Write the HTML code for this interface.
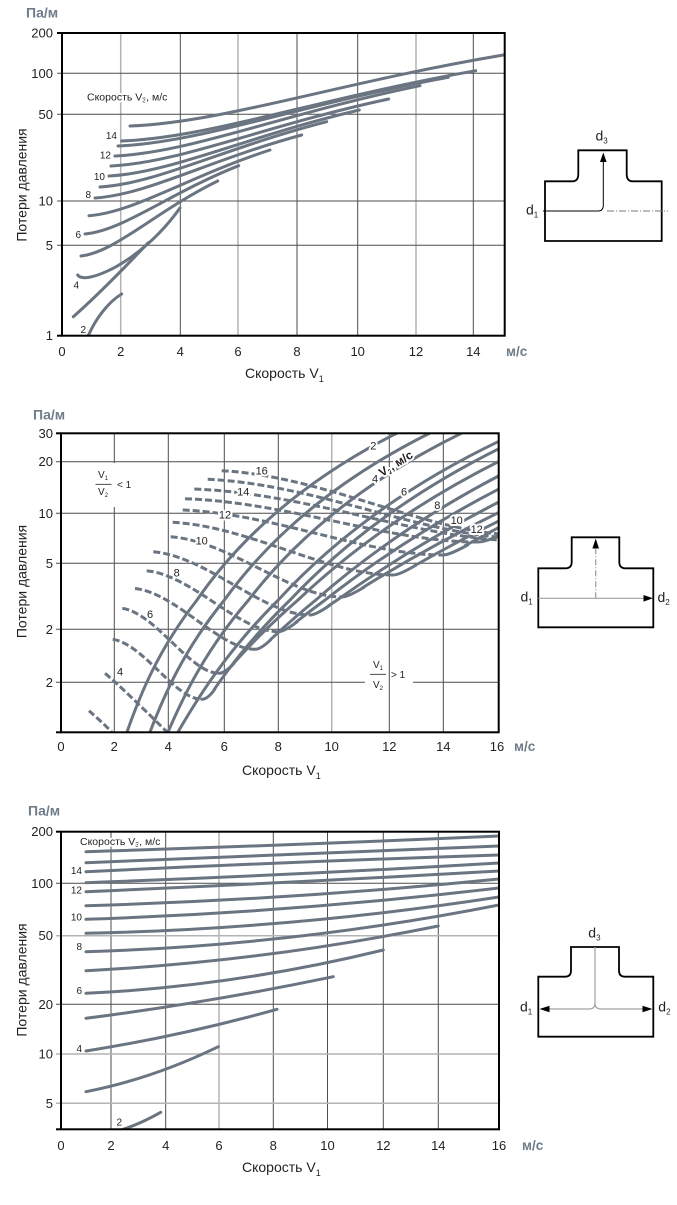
<!DOCTYPE html>
<html><head><meta charset="utf-8"><style>
html,body{margin:0;padding:0;background:#fff;}
svg{display:block;}
text{font-family:"Liberation Sans",sans-serif;fill:#231f20;}
.c{fill:none;stroke:#6a7581;stroke-width:3;stroke-linecap:round;}
.d{fill:none;stroke:#6a7581;stroke-width:3;stroke-dasharray:7 3;}
.gd{stroke:#4d4d4d;stroke-width:1;}
.gl{stroke:#b3b3b3;stroke-width:1.5;}
.fr{fill:none;stroke:#000;stroke-width:2;}
.t{font-size:13px;}
.u{font-size:14px;font-weight:bold;fill:#6f7c89;}
.lab{font-size:10px;}
.lb2{font-size:11px;}
.halo{stroke:#fff;stroke-width:4;paint-order:stroke;stroke-linejoin:round;}
.ax{font-size:14px;}
.dg{fill:none;stroke:#000;stroke-width:1.8;}
</style></head><body>
<svg width="677" height="1205" viewBox="0 0 677 1205" xmlns="http://www.w3.org/2000/svg">
<rect width="677" height="1205" fill="#fff"/>
<defs>
<clipPath id="p1"><rect x="62" y="33" width="442.7" height="302.7"/></clipPath>
<clipPath id="p2"><rect x="61" y="433.3" width="437.7" height="299"/></clipPath>
<clipPath id="p3"><rect x="61" y="831.7" width="438" height="297.6"/></clipPath>
<clipPath id="k5"><rect x="61" y="433.3" width="437.7" height="256"/></clipPath>
<clipPath id="k6"><rect x="61" y="433.3" width="437.7" height="230"/></clipPath>
<clipPath id="k7"><rect x="61" y="433.3" width="437.7" height="206"/></clipPath>
<clipPath id="k8"><rect x="61" y="433.3" width="437.7" height="188.4"/></clipPath>
<clipPath id="k9"><rect x="61" y="433.3" width="437.7" height="171.7"/></clipPath>
<clipPath id="k10"><rect x="61" y="433.3" width="437.7" height="153.7"/></clipPath>
<clipPath id="k11"><rect x="61" y="433.3" width="437.7" height="131.7"/></clipPath>
<clipPath id="k12"><rect x="61" y="433.3" width="437.7" height="111.7"/></clipPath>
</defs>

<!-- ================= CHART 1 ================= -->
<text x="26" y="17.5" class="u">Па/м</text>
<!-- grid -->
<line x1="120.7" y1="33" x2="120.7" y2="335.7" class="gl"/>
<line x1="180.3" y1="33" x2="180.3" y2="335.7" class="gd"/>
<line x1="238" y1="33" x2="238" y2="335.7" class="gl"/>
<line x1="297" y1="33" x2="297" y2="335.7" class="gd"/>
<line x1="357.7" y1="33" x2="357.7" y2="335.7" class="gd"/>
<line x1="416" y1="33" x2="416" y2="335.7" class="gl"/>
<line x1="473.3" y1="33" x2="473.3" y2="335.7" class="gd"/>
<line x1="57" y1="73.3" x2="504.7" y2="73.3" class="gd"/>
<line x1="57" y1="114.3" x2="504.7" y2="114.3" class="gd"/>
<line x1="57" y1="201" x2="504.7" y2="201" class="gd"/>
<line x1="57" y1="245.3" x2="504.7" y2="245.3" class="gd"/>
<line x1="57" y1="33" x2="62" y2="33" stroke="#000" stroke-width="2"/>
<line x1="57" y1="335.7" x2="62" y2="335.7" stroke="#000" stroke-width="2"/>
<!-- y ticks -->
<g class="t" text-anchor="end">
<text x="53" y="37.5">200</text>
<text x="53" y="77.8">100</text>
<text x="53" y="118.8">50</text>
<text x="53" y="205.5">10</text>
<text x="53" y="249.8">5</text>
<text x="53" y="340.2">1</text>
</g>
<g class="t" text-anchor="middle">
<text x="62" y="356">0</text>
<text x="120.7" y="356">2</text>
<text x="180.3" y="356">4</text>
<text x="238" y="356">6</text>
<text x="297" y="356">8</text>
<text x="357.7" y="356">10</text>
<text x="416" y="356">12</text>
<text x="473.3" y="356">14</text>
</g>
<text x="506" y="356" class="u" style="font-size:13.5px">м/с</text>
<text x="245" y="378" class="ax">Скорость V<tspan font-size="9" dy="4">1</tspan></text>
<text transform="translate(26.5,185) rotate(-90)" text-anchor="middle" class="ax">Потери давления</text>
<text x="87" y="100.5" font-size="10.5" class="halo">Скорость V<tspan font-size="7" dy="2">3</tspan><tspan dy="-2">, м/с</tspan></text>
<!-- curves -->
<g clip-path="url(#p1)">
<path class="c" d="M130,126 C223.3,122.45 335.3,83.4 503.3,55"/>
<path class="c" d="M121.7,141 C210.2,137.5 316.4,98.8 475.7,70.7"/>
<path class="c" d="M118,146 C200.6,142.6 299.7,104.8 448.3,77.3"/>
<path class="c" d="M115,156 C191.3,152.5 282.8,113.8 420,85.7"/>
<path class="c" d="M111,166 C180.4,162.65 263.7,125.8 388.7,99"/>
<path class="c" d="M109,176 C171.6,172.7 246.7,136.4 359.3,110"/>
<path class="c" d="M100,187 C156.7,183.7 224.7,147.8 326.7,121.7"/>
<path class="c" d="M95,198 C146.7,194.85 208.7,160.2 301.7,135"/>
<path class="c" d="M89,215.7 C134.3,212.4 188.6,176.3 270,150"/>
<path class="c" d="M85,234 C123.4,230.6 169.5,193 238.7,165.7"/>
<path class="c" d="M81,256 C115.2,252.25 156.2,211 217.7,181"/>
<path class="c" d="M77.7,275 Q80,278.5 88,277.5 C110,274 150,250 180,208"/>
<path class="c" d="M73.3,316.7 C90,302 110,283 148.3,242.7"/>
<path class="c" d="M88.3,335.7 C95,320 108,302 121.7,294"/>
</g>
<g class="lab" text-anchor="end">
<text x="117" y="139">14</text>
<text x="111" y="158.5">12</text>
<text x="105" y="180">10</text>
<text x="91" y="198">8</text>
<text x="81" y="238">6</text>
<text x="79" y="288.5">4</text>
<text x="86" y="333">2</text>
</g>
<rect x="62" y="33" width="442.7" height="302.7" class="fr"/>

<!-- diagram 1 -->
<path class="dg" d="M545,181.3 H572.5 Q578.3,181.3 578.3,174 V150.3 H626.7 V174 Q626.7,181.3 632.5,181.3 H661.7 V241 H545 Z"/>
<path d="M543,211 H598 Q603.3,211 603.3,205 V161" stroke="#000" stroke-width="1" fill="none"/>
<polygon points="603.3,152.5 600,162 606.6,162" fill="#000"/>
<line x1="607" y1="211" x2="668" y2="211" stroke="#777" stroke-width="1" stroke-dasharray="7 2 1 2"/>
<text x="595.5" y="140.7" font-size="14">d<tspan font-size="8" dy="3">3</tspan></text>
<text x="526" y="214.3" font-size="14">d<tspan font-size="8" dy="3">1</tspan></text>

<!-- ================= CHART 2 ================= -->
<text x="33" y="419.5" class="u">Па/м</text>
<line x1="114.3" y1="433.3" x2="114.3" y2="463" class="gd"/>
<line x1="114.3" y1="507" x2="114.3" y2="732.3" class="gd"/>
<line x1="168.3" y1="433.3" x2="168.3" y2="732.3" class="gd"/>
<line x1="224.3" y1="433.3" x2="224.3" y2="732.3" class="gd"/>
<line x1="278.3" y1="433.3" x2="278.3" y2="732.3" class="gd"/>
<line x1="331.7" y1="433.3" x2="331.7" y2="732.3" class="gl"/>
<line x1="389.3" y1="433.3" x2="389.3" y2="732.3" class="gd"/>
<line x1="443.3" y1="433.3" x2="443.3" y2="732.3" class="gd"/>
<line x1="56" y1="461.7" x2="498.7" y2="461.7" class="gd"/>
<line x1="56" y1="513.3" x2="498.7" y2="513.3" class="gd"/>
<line x1="56" y1="563.3" x2="498.7" y2="563.3" class="gd"/>
<line x1="56" y1="629.3" x2="498.7" y2="629.3" class="gd"/>
<line x1="56" y1="682.3" x2="365" y2="682.3" class="gd"/>
<line x1="413" y1="682.3" x2="498.7" y2="682.3" class="gd"/>
<line x1="56" y1="433.3" x2="61" y2="433.3" stroke="#000" stroke-width="2"/>
<line x1="56" y1="732.3" x2="61" y2="732.3" stroke="#000" stroke-width="2"/>
<g class="t" text-anchor="end">
<text x="53" y="437.8">30</text>
<text x="53" y="466.2">20</text>
<text x="53" y="517.8">10</text>
<text x="53" y="567.8">5</text>
<text x="53" y="633.8">2</text>
<text x="53" y="686.8">2</text>
</g>
<g class="t" text-anchor="middle">
<text x="61" y="751">0</text>
<text x="114.3" y="751">2</text>
<text x="168.3" y="751">4</text>
<text x="224.3" y="751">6</text>
<text x="278.3" y="751">8</text>
<text x="331.7" y="751">10</text>
<text x="389.3" y="751">12</text>
<text x="443.3" y="751">14</text>
<text x="497" y="751">16</text>
</g>
<text x="514" y="751" class="u" style="font-size:13.5px">м/с</text>
<text x="242" y="775" class="ax">Скорость V<tspan font-size="9" dy="4">1</tspan></text>
<text transform="translate(26.5,581.5) rotate(-90)" text-anchor="middle" class="ax">Потери давления</text>

<!-- V1/V2 < 1 -->
<g font-size="10">
<text x="103" y="478" text-anchor="middle">V<tspan font-size="6" dy="2">1</tspan></text>
<line x1="95.5" y1="484.3" x2="111.5" y2="484.3" stroke="#231f20" stroke-width="0.8"/>
<text x="103" y="495" text-anchor="middle">V<tspan font-size="6" dy="2">2</tspan></text>
<text x="117" y="488">&lt; 1</text>
<text x="378" y="668" text-anchor="middle">V<tspan font-size="6" dy="2">1</tspan></text>
<line x1="370" y1="674.3" x2="386" y2="674.3" stroke="#231f20" stroke-width="0.8"/>
<text x="378" y="688" text-anchor="middle">V<tspan font-size="6" dy="2">2</tspan></text>
<text x="391" y="678">&gt; 1</text>
</g>

<g clip-path="url(#p2)">
<!-- dashed -->
<path class="d" d="M221.7,470.7 C318.65,475.8 415.6,526.4 498.7,534"/>
<path class="d" d="M207.7,479.3 C309.55,483.9 411.4,530.1 498.7,537"/>
<path class="d" d="M194.3,489 C300.8,493.1 407.4,533.9 498.7,540"/>
<path class="d" d="M185,498.7 C287.2,502.2 389.4,542 477,542"/>
<path class="d" d="M182.7,510 C273.9,513.6 365.1,555 443.3,555"/>
<path class="d" d="M172.7,522.3 C249.9,526.5 327.1,575 393.3,575"/>
<path class="d" d="M170.7,536.7 C230.7,541.5 290.6,597 342,597"/>
<path class="d" d="M153.3,551.7 C208.1,556.8 263,615 310,615"/>
<path class="d" d="M146.7,570.7 C192.8,575.6 238.8,631.7 278.3,631.7"/>
<path class="d" d="M135,588.5 C177,593.3 219,649 255,649.3"/>
<path class="d" d="M122.3,608.3 C156.1,613.5 190,673.3 219,673.3"/>
<path class="d" d="M112.7,639.3 C143.9,644.1 175,699.3 201.7,699.3"/>
<path class="d" d="M105,673.3 C117,683 150,715 167,732"/>
<path class="d" d="M89,710.7 C96,717 104,724 111.7,732"/>
<!-- solid -->
<path class="c" d="M127,732 C140,695 158,650 197,600 C228,555 285,490 397,433"/>
<path class="c" d="M150,732 C164.2,695 183.7,650 224.4,600 C256.9,555 316.1,490 430,433"/>
<path class="c" d="M168,732 C184,695 205.6,650 248.6,600 C283.2,555 345.4,490 462,433"/>
<path class="c" d="M178,732 C199.5,695 227.8,650 278.3,600 C319.6,555 391.5,490 516.6,433"/>
<path class="c" clip-path="url(#k5)" d="M186.9,732 C209.2,695 238.5,650 290.1,600 C332.4,555 405.7,490 532,433"/>
<path class="c" d="M201.7,699.3 Q207.7,699.3 214.7,689.3"/>
<path class="c" clip-path="url(#k6)" d="M179,732 C205.8,695 240.4,650 298,600 C345.6,555 426.7,490 559.9,433"/>
<path class="c" d="M219,673.3 Q224.7,673.3 234,663.3"/>
<path class="c" clip-path="url(#k7)" d="M186.6,732 C216.2,695 254.4,650 315.8,600 C367,555 453.2,490 590.8,433"/>
<path class="c" d="M255,649.3 Q261,649.3 271.1,639.3"/>
<path class="c" clip-path="url(#k8)" d="M177.7,732 C212.4,695 256.8,650 325.1,600 C382.5,555 477.6,490 623,433"/>
<path class="c" d="M278.3,631.7 Q284.3,631.7 297.2,621.7"/>
<path class="c" clip-path="url(#k9)" d="M173.2,732 C212.6,695 262.6,650 337.2,600 C400.2,555 503.5,490 656,433"/>
<path class="c" d="M310,615 Q316,615 330.1,605"/>
<path class="c" clip-path="url(#k10)" d="M158.1,732 C203.3,695 260.5,650 343.1,600 C413.3,555 526.9,490 688.6,433"/>
<path class="c" d="M342,597 Q348,597 364.4,587"/>
<path class="c" clip-path="url(#k11)" d="M167.2,732 C213.9,695 272.8,650 357.3,600 C429.2,555 545.3,490 709.1,433"/>
<path class="c" d="M393.3,575 Q399.4,575 416.2,565"/>
<path class="c" clip-path="url(#k12)" d="M192.1,732 C236.6,695 293,650 374.6,600 C443.9,555 556.3,490 716.8,433"/>
<path class="c" d="M443.3,555 Q449.3,555 467.6,545"/>
<path class="c" d="M477,542 Q486,542 500,535"/>
</g>
<!-- chart 2 labels -->
<g class="lb2 halo" text-anchor="middle">
<text x="261.7" y="474.7">16</text>
<text x="243.3" y="495.7">14</text>
<text x="225" y="518.3">12</text>
<text x="201.7" y="544.7">10</text>
<text x="176.7" y="576.3">8</text>
<text x="150" y="618">6</text>
<text x="120" y="675.7">4</text>
<text x="373.3" y="449.7">2</text>
<text x="375" y="482.3">4</text>
<text x="404" y="495.7">6</text>
<text x="437.3" y="509">8</text>
<text x="456.7" y="524">10</text>
<text x="476.7" y="533">12</text>
</g>
<text transform="translate(382,477) rotate(-32)" font-size="12" font-weight="bold" class="halo">V<tspan font-size="7" dy="2">2</tspan><tspan dy="-2">, м/с</tspan></text>
<rect x="61" y="433.3" width="437.7" height="299" class="fr"/>

<!-- diagram 2 -->
<path class="dg" d="M538.3,568.3 H565.5 Q571.7,568.3 571.7,562 V537.3 H619.3 V562 Q619.3,568.3 625.5,568.3 H653.3 V627.3 H538.3 Z"/>
<line x1="538.3" y1="598.3" x2="645" y2="598.3" stroke="#a0a0a0" stroke-width="1.2"/>
<polygon points="653,598.3 643.5,595 643.5,601.6" fill="#000"/>
<line x1="595.7" y1="598.3" x2="595.7" y2="549" stroke="#999" stroke-width="1.2" stroke-dasharray="6 2 1 2"/>
<polygon points="595.7,538.5 592.4,548.5 599,548.5" fill="#000"/>
<text x="520.5" y="601.7" font-size="14">d<tspan font-size="8" dy="3">1</tspan></text>
<text x="657.5" y="602" font-size="14">d<tspan font-size="8" dy="3">2</tspan></text>

<!-- ================= CHART 3 ================= -->
<text x="28" y="815.5" class="u">Па/м</text>
<line x1="111" y1="831.7" x2="111" y2="1129.3" class="gd"/>
<line x1="165.7" y1="831.7" x2="165.7" y2="1129.3" class="gd"/>
<line x1="219" y1="831.7" x2="219" y2="1129.3" class="gl"/>
<line x1="273.3" y1="831.7" x2="273.3" y2="1129.3" class="gd"/>
<line x1="327.5" y1="831.7" x2="327.5" y2="1129.3" class="gd"/>
<line x1="383.3" y1="831.7" x2="383.3" y2="1129.3" class="gd"/>
<line x1="438.3" y1="831.7" x2="438.3" y2="1129.3" class="gd"/>
<line x1="56" y1="883.3" x2="499" y2="883.3" class="gd"/>
<line x1="56" y1="935.7" x2="499" y2="935.7" class="gl"/>
<line x1="56" y1="1004.3" x2="499" y2="1004.3" class="gd"/>
<line x1="56" y1="1054" x2="499" y2="1054" class="gl"/>
<line x1="56" y1="1103.3" x2="499" y2="1103.3" class="gl"/>
<line x1="56" y1="831.7" x2="61" y2="831.7" stroke="#000" stroke-width="2"/>
<line x1="56" y1="1129.3" x2="61" y2="1129.3" stroke="#000" stroke-width="2"/>
<g class="t" text-anchor="end">
<text x="53" y="836.2">200</text>
<text x="53" y="887.8">100</text>
<text x="53" y="940.2">50</text>
<text x="53" y="1008.8">20</text>
<text x="53" y="1058.5">10</text>
<text x="53" y="1107.8">5</text>
</g>
<g class="t" text-anchor="middle">
<text x="61" y="1150">0</text>
<text x="111" y="1150">2</text>
<text x="165.7" y="1150">4</text>
<text x="219" y="1150">6</text>
<text x="273.3" y="1150">8</text>
<text x="327.5" y="1150">10</text>
<text x="383.3" y="1150">12</text>
<text x="438.3" y="1150">14</text>
<text x="499" y="1150">16</text>
</g>
<text x="522" y="1150" class="u" style="font-size:13.5px">м/с</text>
<text x="242" y="1172" class="ax">Скорость V<tspan font-size="9" dy="4">1</tspan></text>
<text transform="translate(26.5,980) rotate(-90)" text-anchor="middle" class="ax">Потери давления</text>
<text x="80" y="845" font-size="10.5" class="halo">Скорость V<tspan font-size="7" dy="2">3</tspan><tspan dy="-2">, м/с</tspan></text>
<g clip-path="url(#p3)">
<path class="c" d="M86,851.7 Q292.5,845.15 499,836"/>
<path class="c" d="M86,862.7 Q292.5,854.65 499,846"/>
<path class="c" d="M86,871.7 Q292.5,861.65 499,855"/>
<path class="c" d="M86,882.7 Q292.5,875.15 499,863"/>
<path class="c" d="M86,891.7 Q292.5,882.65 499,871"/>
<path class="c" d="M86,905.7 Q292.5,899.65 499,879"/>
<path class="c" d="M86,919.3 Q292.5,912.35 499,888"/>
<path class="c" d="M86,933.3 Q292.5,928.85 499,897"/>
<path class="c" d="M86,951.7 Q292.5,945.65 499,905"/>
<path class="c" d="M86,970.7 Q262.15,961.65 438.3,926"/>
<path class="c" d="M86,993.3 Q234.65,986.35 383.3,950"/>
<path class="c" d="M86,1018.3 Q209.65,1002.5 333.3,976.7"/>
<path class="c" d="M86,1051 Q181.5,1035.85 277,1009.3"/>
<path class="c" d="M86,1091.7 Q152.15,1078.8 218.3,1046.7"/>
<path class="c" d="M123,1129.3 Q140,1124 160.7,1112.3"/>
</g>
<g class="lab" text-anchor="end">
<text x="82" y="874">14</text>
<text x="82" y="893.5">12</text>
<text x="82" y="920.5">10</text>
<text x="82" y="950">8</text>
<text x="82" y="994">6</text>
<text x="82" y="1052">4</text>
<text x="122" y="1125.7" class="halo">2</text>
</g>
<rect x="61" y="831.7" width="438" height="297.6" class="fr"/>

<!-- diagram 3 -->
<path class="dg" d="M538.3,976.7 H565 Q571,976.7 571,970.5 V947 H619 V970.5 Q619,976.7 625,976.7 H653.3 V1036.7 H538.3 Z"/>
<path d="M595,947 V1003 Q595,1009 589,1009 H549 M595,1003 Q595,1009 601,1009 H643" fill="none" stroke="#a0a0a0" stroke-width="1.2"/>
<polygon points="539.5,1009 549.5,1005.7 549.5,1012.3" fill="#000"/>
<polygon points="652.5,1009 642.5,1005.7 642.5,1012.3" fill="#000"/>
<text x="588.3" y="937.5" font-size="14">d<tspan font-size="8" dy="3">3</tspan></text>
<text x="520" y="1011.7" font-size="14">d<tspan font-size="8" dy="3">1</tspan></text>
<text x="658.3" y="1011.7" font-size="14">d<tspan font-size="8" dy="3">2</tspan></text>
</svg>
</body></html>
